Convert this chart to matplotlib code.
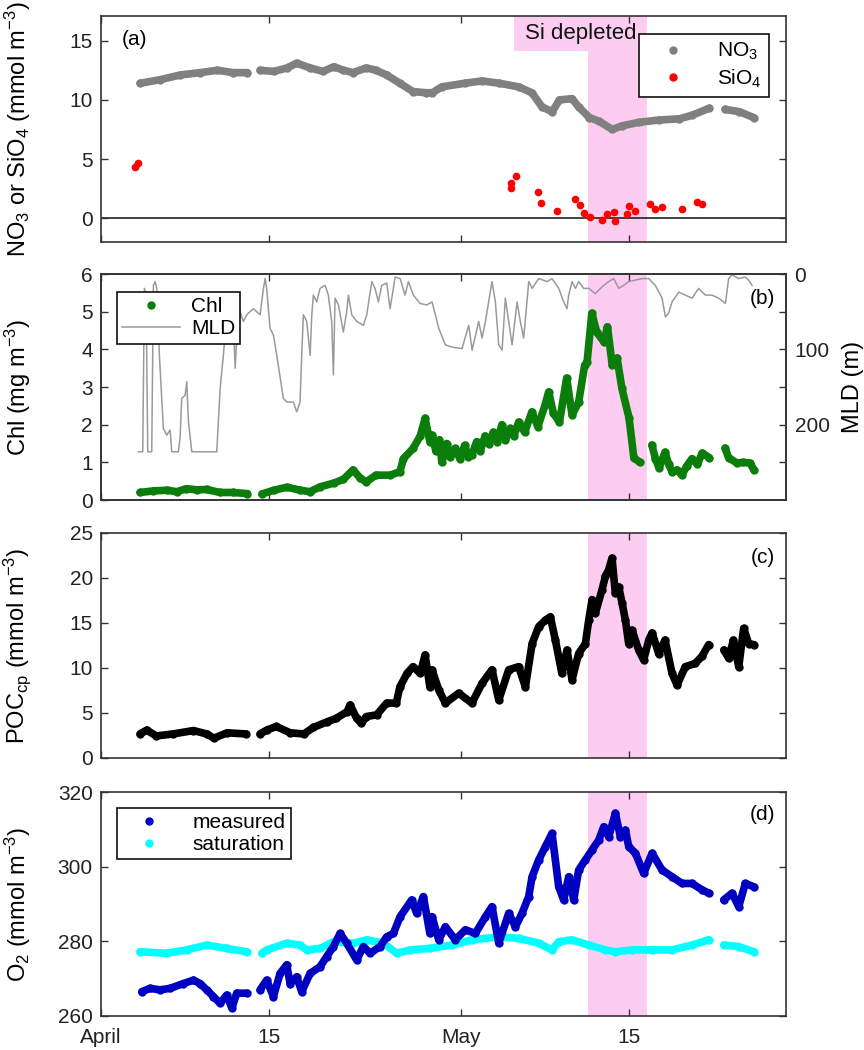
import numpy as np
import matplotlib
matplotlib.use('Agg')
import matplotlib.pyplot as plt
from matplotlib.lines import Line2D
from matplotlib.patches import Rectangle

plt.rcParams['font.family'] = ['Liberation Sans', 'DejaVu Sans']
plt.rcParams['mathtext.fontset'] = 'custom'
plt.rcParams['mathtext.rm'] = 'Liberation Sans'
plt.rcParams['mathtext.it'] = 'Liberation Sans'
plt.rcParams['font.size'] = 15

nan = np.nan

# x values are days since 1 April
tick_days = [0, 14, 30, 44]
tick_labels = ['April', '15', 'May', '15']
si_start, si_end = 40.6, 45.5

# (a) nitrate and silicate
no3_day = [3.25, 4.9, 6.6, 8.25, 9.7, 11.0, 12.2, 12.7, 13.25, 14.4, 15.5, 16.3, 17.4, 18.5, 19.4,
           20.2, 21.0, 22.1, 22.9, 23.8, 24.9, 26.0, 27.1, 27.6, 28.4, 30.3, 31.75, 33.2, 34.8,
           35.9, 36.75, 37.6, 38.2, 39.25, 39.8, 40.7, 41.5, 42.6, 43.4, 44.8, 46.5, 48.2, 49.25,
           50.7, 51.3, 52.0, 53.2, 54.4]
no3_val = [11.4, 11.7, 12.1, 12.3, 12.5, 12.3, 12.3, nan, 12.5, 12.4, 12.7, 13.1, 12.7, 12.4, 12.8,
           12.5, 12.3, 12.7, 12.5, 12.1, 11.4, 10.7, 10.6, 10.6, 11.1, 11.4, 11.6, 11.4, 11.1,
           10.6, 9.4, 9.0, 10.0, 10.1, 9.4, 8.5, 8.2, 7.5, 7.8, 8.1, 8.3, 8.4, 8.7,
           9.3, nan, 9.2, 9.0, 8.5]
sio4_day = [2.8, 3.1, 34.2, 34.2, 34.6, 36.4, 36.7, 38.0, 39.5, 39.9, 40.25, 40.75, 41.75, 42.2,
            42.75, 42.8, 43.8, 44.0, 44.5, 45.75, 46.2, 46.75, 48.4, 49.7, 50.1]
sio4_val = [4.3, 4.7, 3.0, 2.6, 3.6, 2.2, 1.3, 0.6, 1.6, 1.1, 0.45, 0.1, -0.1, 0.4,
            0.5, -0.25, 0.4, 1.0, 0.6, 1.2, 0.75, 0.95, 0.75, 1.35, 1.25]

# (b) chlorophyll and mixed layer depth
chl_day = [3.25, 4.3, 5.5, 6.3, 7.1, 8.0, 8.8, 9.9, 11.0, 12.2, 12.8, 13.4, 14.4, 15.5, 16.6, 17.4,
           18.25, 19.4, 20.2, 21.0, 21.6, 22.1, 22.9, 24.1, 24.9, 25.2, 26.0, 26.6, 27.0, 27.4,
           27.6, 27.9, 28.2, 28.4, 28.8, 29.1, 29.5, 29.9, 30.3, 30.6, 30.9, 31.3, 31.6, 32.0,
           32.3, 32.7, 33.0, 33.4, 33.7, 34.1, 34.4, 34.8, 35.3, 35.9, 36.4, 37.0, 37.3, 37.7,
           38.2, 38.8, 39.25, 39.8, 40.3, 40.5, 40.9, 41.3, 41.9, 42.2, 42.6, 43.0, 43.4, 44.0,
           44.4, 44.9, 45.4, 45.9, 46.2, 46.5, 47.0, 47.3, 47.6, 48.0, 48.4, 48.8, 49.25, 49.7,
           50.1, 50.7, 51.3, 52.0, 52.3, 53.0, 53.5, 54.1, 54.4]
chl_val = [0.2, 0.24, 0.26, 0.22, 0.3, 0.27, 0.28, 0.2, 0.2, 0.17, nan, 0.16, 0.26, 0.34, 0.26, 0.22,
           0.35, 0.45, 0.55, 0.8, 0.58, 0.48, 0.66, 0.66, 0.75, 1.1, 1.37, 1.7, 2.17, 1.55,
           1.72, 1.3, 1.6, 1.0, 1.5, 1.15, 1.37, 1.1, 1.45, 1.15, 1.2, 1.55, 1.3, 1.7,
           1.5, 1.8, 1.55, 2.0, 1.6, 1.9, 1.7, 2.07, 1.8, 2.34, 1.95, 2.52, 2.87, 2.3,
           2.07, 3.24, 2.26, 2.6, 3.58, 3.66, 4.96, 4.46, 4.2, 4.6, 3.58, 3.77, 2.97, 2.18,
           1.12, 1.0, nan, 1.46, 1.1, 0.85, 1.27, 0.95, 0.74, 0.8, 0.66, 0.9, 1.1, 0.95,
           1.25, 1.12, nan, 1.38, 1.12, 0.98, 1.0, 0.98, 0.8]
mld_day = [3.11, 3.47, 3.61, 3.75, 3.89, 4.22, 4.36, 4.5, 4.64, 4.86, 5.19, 5.47, 5.75, 5.89, 6.44,
           6.58, 6.72, 7.0, 7.14, 7.28, 7.56, 9.64, 9.92, 10.19, 10.47, 10.75, 11.03, 11.17, 11.31,
           11.44, 11.58, 11.86, 12.14, 12.69, 13.25, 13.53, 13.67, 13.8, 14.08, 14.36, 14.64, 15.19,
           15.47, 16.03, 16.3, 16.58, 16.72, 16.86, 17.14, 17.42, 17.56, 17.69, 17.97, 18.25, 18.67,
           18.94, 19.22, 19.36, 19.5, 19.78, 20.19, 20.47, 20.61, 20.89, 21.31, 21.86, 22.14, 22.56,
           22.83, 23.11, 23.39, 23.81, 24.08, 24.36, 24.5, 24.92, 25.33, 25.61, 26.03, 26.58, 27.14,
           27.58, 27.86, 28.14, 28.69, 29.25, 30.08, 30.64, 30.92, 31.47, 31.75, 32.03, 32.58, 32.86,
           33.14, 33.42, 33.69, 33.97, 34.25, 34.67, 34.94, 35.22, 35.64, 35.92, 36.47, 37.17, 37.58,
           38.14, 38.55, 38.83, 38.97, 39.25, 39.53, 39.8, 40.22, 40.64, 41.19, 41.75, 42.3, 42.72,
           43.14, 43.55, 43.97, 44.53, 45.08, 45.64, 46.19, 46.75, 47.03, 47.3, 47.58, 48.14, 48.69,
           49.25, 49.8, 50.36, 50.92, 51.47, 52.03, 52.3, 52.58, 53.14, 53.69, 53.97, 54.25]
mld_val = [236, 236, 19, 28, 236, 236, 15, 10, 19, 108, 205, 214, 207, 236, 236,
           218, 165, 161, 143, 196, 236, 236, 152, 108, 54, 32, 63, 125, 85,
           28, 50, 63, 54, 46, 54, 19, 6, 19, 72, 81, 108, 165,
           170, 170, 183, 170, 108, 54, 63, 108, 54, 28, 37, 19, 15,
           28, 63, 134, 32, 41, 77, 50, 28, 54, 63, 68, 54, 10,
           19, 37, 15, 12, 46, 19, 4, 6, 28, 10, 28, 39, 41,
           37, 54, 72, 94, 97, 99, 68, 101, 63, 85, 63, 10, 37,
           94, 101, 32, 63, 94, 37, 63, 85, 10, 19, 6, 10, 6,
           19, 37, 46, 28, 10, 19, 10, 19, 19, 26, 17, 10, 6,
           19, 15, 10, 8, 6, 6, 15, 32, 57, 52, 37, 24, 28,
           32, 19, 28, 28, 32, 39, 6, 1, 6, 4, 8, 15]

# (c) particulate organic carbon
poc_day = [3.25, 3.8, 4.6, 6.0, 7.7, 8.8, 9.4, 10.5, 12.1, 12.7, 13.25, 13.8, 14.6, 15.75, 16.9,
           17.7, 18.8, 19.6, 20.5, 20.75, 21.3, 21.7, 22.1, 22.97, 23.8, 24.6, 24.9, 25.5, 26.0,
           26.6, 27.0, 27.4, 27.58, 28.14, 28.69, 29.8, 30.9, 31.75, 32.58, 33.14, 33.97, 34.8,
           35.36, 35.92, 36.47, 37.03, 37.44, 37.86, 38.4, 38.83, 39.25, 39.8, 40.36, 40.64, 40.92,
           41.19, 41.75, 42.03, 42.3, 42.58, 42.86, 43.14, 43.42, 43.7, 43.97, 44.25, 44.8, 45.22,
           45.64, 45.92, 46.47, 47.0, 47.58, 48.0, 48.69, 49.5, 50.08, 50.64, 51.3, 51.9, 52.3,
           52.7, 53.14, 53.55, 53.97, 54.4]
poc_val = [2.67, 3.1, 2.45, 2.67, 3.05, 2.67, 2.2, 2.8, 2.67, nan, 2.67, 3.1, 3.5, 2.8, 2.67,
           3.4, 4.0, 4.4, 5.15, 5.9, 4.4, 3.85, 4.6, 4.8, 6.1, 6.1, 7.9, 9.4, 10.15,
           9.4, 11.45, 7.9, 9.8, 7.56, 6.1, 7.2, 6.1, 8.3, 9.8, 6.45, 9.8, 10.15,
           7.9, 12.7, 14.6, 15.3, 15.7, 13.1, 9.4, 12.0, 8.7, 11.6, 12.7, 15.3, 17.6,
           16.1, 18.7, 20.2, 20.9, 22.2, 18.3, 19.0, 17.2, 15.3, 12.7, 14.2, 12.0, 10.9,
           13.1, 13.9, 11.6, 13.1, 9.4, 8.1, 10.15, 10.5, 11.3, 12.6, nan, 12.0, 11.1,
           13.1, 10.15, 14.4, 12.7, 12.6]

# (d) oxygen
o2_day = [3.39, 4.08, 4.92, 5.75, 6.86, 7.7, 8.25, 8.8, 9.36, 9.92, 10.47, 10.9, 11.3, 12.14, 12.7,
          13.25, 13.8, 14.36, 14.92, 15.47, 15.75, 16.3, 16.72, 17.42, 18.25, 18.8, 19.36, 19.92,
          20.47, 21.3, 21.86, 22.42, 23.25, 23.8, 24.36, 24.92, 25.89, 26.3, 26.86, 27.4,
          27.58, 28.14, 28.69, 29.52, 30.36, 31.19, 32.03, 32.58, 33.14, 33.97, 34.53, 35.08,
          35.64, 35.92, 36.47, 37.03, 37.58, 38.14, 38.55, 38.97, 39.39, 39.8, 40.36, 40.92,
          41.47, 41.89, 42.3, 42.86, 43.28, 43.7, 43.97, 44.53, 45.22, 45.92, 46.75, 47.58,
          48.42, 49.25, 50.08, 50.64, 51.3, 51.89, 52.58, 53.14, 53.69, 54.4]
o2_val = [266.5, 267.4, 267.0, 267.4, 268.7, 269.6, 268.7, 267.0, 265.2, 263.4, 265.6, 262.1, 266.1, 266.1, nan,
          267.0, 269.6, 265.2, 271.4, 273.7, 268.7, 270.5, 266.5, 271.4, 273.2, 275.9, 278.6, 282.1,
          279.5, 275.0, 278.6, 276.8, 278.6, 281.2, 282.1, 286.6, 291.1, 287.5, 292.0, 282.1,
          286.6, 280.4, 283.9, 280.4, 283.1, 282.1, 286.6, 289.3, 279.5, 287.5, 283.9, 287.5,
          292.0, 297.3, 301.8, 305.4, 308.9, 294.6, 291.1, 297.3, 291.1, 299.1, 301.8, 304.5,
          307.1, 310.7, 308.0, 314.3, 308.0, 309.8, 305.4, 303.6, 298.2, 303.6, 299.1, 297.3,
          295.5, 295.5, 293.8, 292.9, nan, 291.1, 292.9, 289.3, 295.5, 294.6]
sat_day = [3.25, 5.47, 7.14, 8.8, 10.47, 12.14, 12.7, 13.4, 13.8, 15.47, 16.58, 17.14, 18.25, 19.36,
           21.03, 22.14, 23.53, 24.64, 25.75, 27.4, 29.25, 30.92, 33.14, 34.8, 36.47, 37.58,
           38.14, 39.25, 40.64, 42.03, 42.86, 44.25, 45.92, 47.58, 49.25, 50.64, 51.3, 51.89,
           53.14, 54.4]
sat_val = [277.2, 276.8, 277.7, 279.0, 278.1, 277.2, nan, 276.8, 277.7, 279.5, 279.0, 277.7, 278.1, 279.9,
           279.5, 280.4, 279.5, 276.8, 277.7, 278.1, 279.0, 280.4, 281.2, 280.8, 279.5, 277.7,
           279.9, 280.4, 279.0, 277.7, 277.2, 277.7, 277.7, 277.7, 279.0, 280.4, nan, 279.0,
           278.6, 277.2]

pink = '#fccdf0'
spine_col = '#333333'
band = dict(lw=5.5, marker='o', ms=5, solid_capstyle='round', solid_joinstyle='round')
leg_kw = dict(fancybox=False, framealpha=1, edgecolor='#111111', fontsize=15, borderaxespad=0)
label_size = 17


def style_axes(ax, show_labels=False):
    ax.set_xlim(0, 57.1)
    ax.set_xticks(tick_days)
    ax.set_xticklabels(tick_labels if show_labels else [])
    ax.tick_params(direction='in', length=5, width=1, top=True, right=True,
                   colors=spine_col, labelcolor='#222222', labelsize=15)
    ax.tick_params(axis='y', pad=6)
    ax.tick_params(axis='x', pad=9)
    for s in ax.spines.values():
        s.set_color(spine_col)
        s.set_linewidth(1.2)
    ax.axvspan(si_start, si_end, color=pink, lw=0, zorder=0)


fig = plt.figure(figsize=(8.64, 10.5), dpi=100)
left, width = 0.117, 0.793
ax_a = fig.add_axes([left, 0.7695, width, 0.2155])
ax_b = fig.add_axes([left, 0.5238, width, 0.2152])
ax_c = fig.add_axes([left, 0.2781, width, 0.2143])
ax_d = fig.add_axes([left, 0.0324, width, 0.2133])

# (a)
style_axes(ax_a)
ax_a.axhline(0, color='#222222', lw=1.2, zorder=1)
ax_a.plot(no3_day, no3_val, color='#808080', zorder=2, **band)
ax_a.plot(sio4_day, sio4_val, 'o', color='#ff0000', ms=4.5, zorder=3)
ax_a.set_ylim(-2, 17.1)
ax_a.set_yticks([0, 5, 10, 15])
ax_a.set_ylabel('NO$_3$ or SiO$_4$ (mmol m$^{-3}$)', fontsize=label_size)
ax_a.add_patch(Rectangle((34.4, 14.1), si_end - 34.4, 3.0, color=pink, lw=0, zorder=0))
ax_a.text((34.4 + si_end) / 2, 15.6, 'Si depleted', ha='center', va='center', fontsize=16, color='#111111')
ax_a.text(0.03, 0.893, '(a)', transform=ax_a.transAxes, ha='left', va='center', fontsize=15)
leg_a = [Line2D([], [], ls='none', marker='o', color='#808080', ms=5),
         Line2D([], [], ls='none', marker='o', color='#ff0000', ms=5)]
la = ax_a.legend(leg_a, ['NO$_3$', 'SiO$_4$'], loc='upper right', bbox_to_anchor=(0.975, 0.92),
                 handlelength=2.6, borderpad=0.35, labelspacing=0.25, **leg_kw)
la.get_frame().set_linewidth(1.2)

# (b)
style_axes(ax_b)
ax_b.tick_params(right=False)
ax_b.plot(chl_day, chl_val, color='#0a7d0a', zorder=2, **band)
ax_b.set_ylim(0, 6)
ax_b.set_yticks(range(0, 7))
ax_b.set_ylabel('Chl (mg m$^{-3}$)', fontsize=label_size)
ax_b2 = ax_b.twinx()
ax_b2.plot(mld_day, mld_val, color='#9a9a9a', lw=1.1)
ax_b2.set_ylim(300, 0)
ax_b2.set_yticks([0, 50, 100, 150, 200, 250])
ax_b2.set_yticklabels(['0', '', '100', '', '200', ''])
ax_b2.tick_params(direction='in', length=5, width=1, pad=6, colors=spine_col,
                  labelcolor='#222222', labelsize=15)
ax_b2.set_ylabel('MLD (m)', fontsize=label_size)
ax_b2.yaxis.set_label_coords(1.082, 0.5)
for s in ax_b2.spines.values():
    s.set_color(spine_col)
    s.set_linewidth(1.2)
ax_b2.text(0.984, 0.894, '(b)', transform=ax_b2.transAxes, ha='right', va='center', fontsize=15)
leg_b = [Line2D([], [], ls='none', marker='o', color='#0a7d0a', ms=5),
         Line2D([], [], color='#9a9a9a', lw=1.1)]
lb = ax_b2.legend(leg_b, ['Chl', 'MLD'], loc='upper left', bbox_to_anchor=(0.023, 0.92),
                  handlelength=2.8, handletextpad=0.5, borderpad=0.25, labelspacing=0.15, **leg_kw)
lb.get_frame().set_linewidth(1.2)

# (c)
style_axes(ax_c)
ax_c.plot(poc_day, poc_val, color='black', zorder=2, **band)
ax_c.set_ylim(0, 25)
ax_c.set_yticks([0, 5, 10, 15, 20, 25])
ax_c.set_ylabel(r'POC$_{\mathrm{cp}}$ (mmol m$^{-3}$)', fontsize=label_size)
ax_c.text(0.984, 0.893, '(c)', transform=ax_c.transAxes, ha='right', va='center', fontsize=15)

# (d)
style_axes(ax_d, show_labels=True)
ax_d.plot(sat_day, sat_val, color='#00ffff', zorder=2, **band)
ax_d.plot(o2_day, o2_val, color='#0000c0', zorder=3, **band)
ax_d.set_ylim(260, 320)
ax_d.set_yticks([260, 280, 300, 320])
ax_d.set_ylabel('O$_2$ (mmol m$^{-3}$)', fontsize=label_size)
ax_d.text(0.984, 0.9, '(d)', transform=ax_d.transAxes, ha='right', va='center', fontsize=15)
leg_d = [Line2D([], [], ls='none', marker='o', color='#0000c0', ms=5),
         Line2D([], [], ls='none', marker='o', color='#00ffff', ms=5)]
ld = ax_d.legend(leg_d, ['measured', 'saturation'], loc='upper left', bbox_to_anchor=(0.023, 0.929),
                 handlelength=2.6, borderpad=0.25, labelspacing=0.15, **leg_kw)
ld.get_frame().set_linewidth(1.2)

for ax in (ax_a, ax_b, ax_c, ax_d):
    ax.yaxis.set_label_coords(-0.1, 0.5)

fig.savefig('out.png', dpi=100)
